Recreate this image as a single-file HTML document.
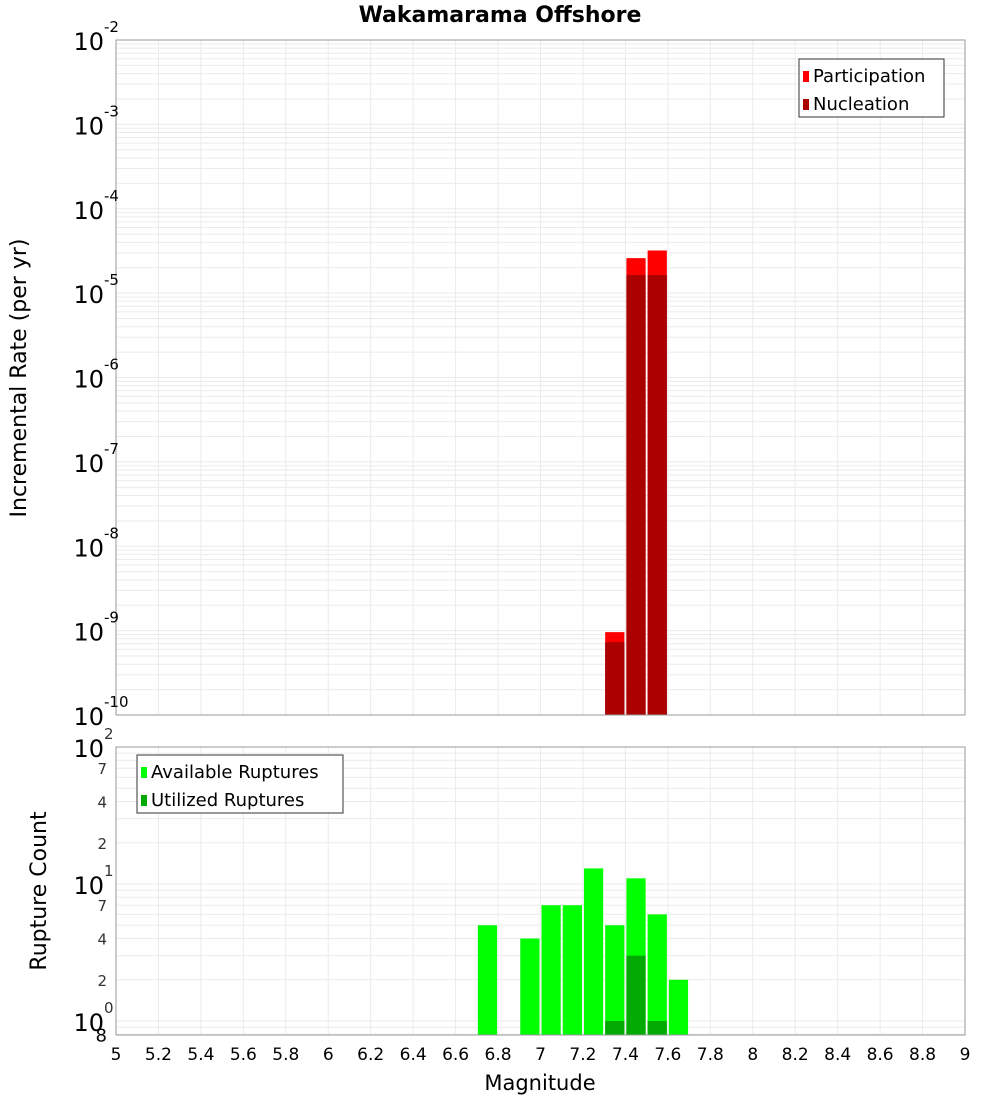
<!DOCTYPE html>
<html><head><meta charset="utf-8"><style>
body{margin:0;background:#fff;font-family:"DejaVu Sans","Liberation Sans",sans-serif}
</style></head><body>
<svg id="c" width="1000" height="1100" xmlns="http://www.w3.org/2000/svg"></svg>
<script>
const binStarts=[7.3,7.4,7.5];
const participation=[9.6e-10,2.6e-5,3.2e-5];
const nucleation=[7.3e-10,1.64e-5,1.64e-5];
const cntBins=[6.7,6.9,7.0,7.1,7.2,7.3,7.4,7.5,7.6];
const available=[5,4,7,7,13,5,11,6,2];
const utilBins=[7.3,7.4,7.5];
const utilized=[1,3,1];
const xTicks=[5,5.2,5.4,5.6,5.8,6,6.2,6.4,6.6,6.8,7,7.2,7.4,7.6,7.8,8,8.2,8.4,8.6,8.8,9];
const topExp=[-2,-3,-4,-5,-6,-7,-8,-9,-10];

const svg=document.getElementById('c');
const NS='http://www.w3.org/2000/svg';
function mk(t,a,p){const e=document.createElementNS(NS,t);for(const k in a)e.setAttribute(k,a[k]);(p||svg).appendChild(e);return e;}
const X0=116,X1=965;
const xs=m=>X0+(m-5)/4*(X1-X0);
const T0=40,T1=715;
const yT=v=>T0+(-2-Math.log10(v))*(T1-T0)/8;
const B0=747,BD=137;
const yB=v=>B0+(2-Math.log10(v))*BD;
const B1=1035;

// panels
let g=mk('g',{});
mk('rect',{x:X0,y:T0,width:X1-X0,height:T1-T0,fill:'#fff'},g);
for(let e=-10;e<-2;e++)for(let k=1;k<10;k++){const y=yT(k*Math.pow(10,e));mk('line',{x1:X0,x2:X1,y1:y,y2:y,stroke:'#ebebeb','stroke-width':1},g);}
xTicks.forEach(t=>{const x=xs(t);mk('line',{x1:x,x2:x,y1:T0,y2:T1,stroke:'#ebebeb'},g);});
let gb=mk('g',{});
mk('rect',{x:X0,y:B0,width:X1-X0,height:B1-B0,fill:'#fff'},gb);
for(let e=-1;e<2;e++)for(let k=1;k<10;k++){const v=k*Math.pow(10,e);const y=yB(v);if(y>B1||y<B0)continue;mk('line',{x1:X0,x2:X1,y1:y,y2:y,stroke:'#ebebeb'},gb);}
xTicks.forEach(t=>{const x=xs(t);mk('line',{x1:x,x2:x,y1:B0,y2:B1,stroke:'#ebebeb'},gb);});

// top bars
binStarts.forEach((b,i)=>{
 const x=xs(b)+1,w=xs(b+0.1)-xs(b)-2;
 let r=mk('rect',{x:x,y:yT(participation[i]),width:w,height:T1-yT(participation[i]),fill:'#ff0000'},g);
 
 r=mk('rect',{x:x,y:yT(nucleation[i]),width:w,height:T1-yT(nucleation[i]),fill:'#aa0000'},g);
 
});
cntBins.forEach((b,i)=>{
 const x=xs(b)+1,w=xs(b+0.1)-xs(b)-2;
 const r=mk('rect',{x:x,y:yB(available[i]),width:w,height:B1-yB(available[i]),fill:'#00ff00'},gb);
 
});
utilBins.forEach((b,i)=>{
 const x=xs(b)+1,w=xs(b+0.1)-xs(b)-2;
 const r=mk('rect',{x:x,y:yB(utilized[i]),width:w,height:B1-yB(utilized[i]),fill:'#00aa00'},gb);
 
});
mk('rect',{x:X0,y:T0,width:X1-X0,height:T1-T0,fill:'none',stroke:'#999'},g);
mk('rect',{x:X0,y:B0,width:X1-X0,height:B1-B0,fill:'none',stroke:'#999'},gb);

// top y labels
topExp.forEach(e=>{const y=yT(Math.pow(10,e));
 const t=mk('text',{x:104,y:y+10,'text-anchor':'end','font-size':24,fill:'#000'});
 
 t.textContent='10';
 const s=mk('text',{x:104,y:y-8,'font-size':15,fill:'#000'});s.textContent=String(e);
});
// bottom y labels
[[100,'2'],[10,'1'],[1,'0']].forEach(([v,e])=>{const y=yB(v);
 const t=mk('text',{x:104,y:y+10,'text-anchor':'end','font-size':24});t.textContent='10';
 
 const s=mk('text',{x:104,y:y-8,'font-size':15,fill:'#333'});s.textContent=e;});
[7,4,2,70,40,20].forEach(v=>{const y=yB(v);const t=mk('text',{x:107,y:y+6,'text-anchor':'end','font-size':15,fill:'#333'});t.textContent=String(v>9?v/10:v);});
{const t=mk('text',{x:107,y:yB(0.8)+7,'text-anchor':'end','font-size':18});t.textContent='8';}
// x labels
xTicks.forEach(t=>{const e=mk('text',{x:xs(t),y:1060,'text-anchor':'middle','font-size':17});e.textContent=String(t);
 });
let e=mk('text',{x:540,y:1090,'text-anchor':'middle','font-size':21});e.textContent='Magnitude';

e=mk('text',{x:0,y:0,'text-anchor':'middle','font-size':22,transform:'translate(26,378) rotate(-90)'});e.textContent='Incremental Rate (per yr)';

e=mk('text',{x:0,y:0,'text-anchor':'middle','font-size':22,transform:'translate(46,891) rotate(-90)'});e.textContent='Rupture Count';

e=mk('text',{x:500,y:22,'text-anchor':'middle','font-size':22,'font-weight':'bold'});e.textContent='Wakamarama Offshore';


// legends
function legend(x,y,w,items,name){const lg=mk('g',{});
 mk('rect',{x:x,y:y,width:w,height:58,fill:'#fff',stroke:'#333'},lg);
 items.forEach((it,i)=>{mk('rect',{x:x+4,y:y+12+i*28,width:6,height:11,fill:it[1]},lg);
  const t=mk('text',{x:x+14,y:y+23+i*28,'font-size':18},lg);t.textContent=it[0];});}
legend(799,59,145,[['Participation','#ff0000'],['Nucleation','#aa0000']],'legend-top');
legend(137,755,206,[['Available Ruptures','#00ff00'],['Utilized Ruptures','#00aa00']],'legend-bottom');
</script>
</body></html>
